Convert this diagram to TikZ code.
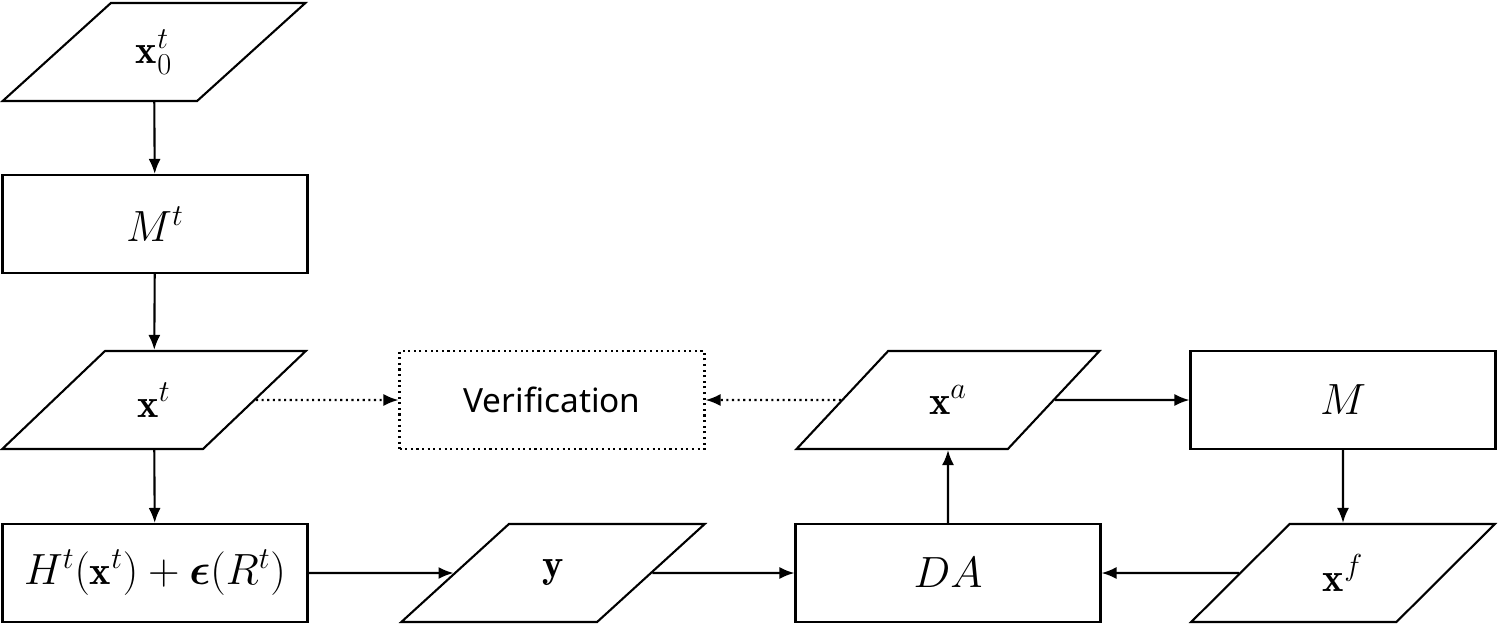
\documentclass[tikz,border=0pt]{standalone}
\usepackage{amsmath,bm}
\usepackage{fontspec}
\newfontfamily\vsans{Noto Sans}
\usetikzlibrary{shapes.geometric,arrows.meta}
\begin{document}
\begin{tikzpicture}[x=0.02cm,y=-0.02cm,
  every node/.style={font=\fontsize{23}{27}\selectfont, line width=1.2pt, draw, inner sep=0pt},
  box/.style={rectangle, minimum width=6.1cm, minimum height=1.96cm},
  para/.style={trapezium, trapezium left angle=45, trapezium right angle=135, trapezium stretches=true, minimum width=6.08cm, minimum height=1.96cm},
  arr/.style={line width=1.2pt, -{Latex[length=3mm,width=2.4mm]}},
  dot/.style={arr, dotted}]
\useasboundingbox (0,0) rectangle (1500,626);
\node[para] (x0) at (154,52) {$\mathbf{x}_0^t$};
\node[box] (Mt) at (155,224) {$M^t$};
\node[para] (xt) at (154,400) {$\mathbf{x}^t$};
\node[box] (H) at (155,573) {$H^t(\mathbf{x}^t)+\bm{\epsilon}(R^t)$};
\node[para] (y) at (553,573) {$\mathbf{y}$};
\node[box] (DA) at (948,573) {$DA$};
\node[para] (xf) at (1343,573) {$\mathbf{x}^f$};
\node[box] (M) at (1343,400) {$M$};
\node[para] (xa) at (948,400) {$\mathbf{x}^a$};
\node[box, dotted, font=\fontsize{19}{23}\selectfont] (V) at (552,400) {\vsans Verification};
\draw[arr] (x0) -- (Mt);
\draw[arr] (Mt) -- (xt);
\draw[arr] (xt) -- (H);
\draw[arr] (H) -- (y);
\draw[arr] (y) -- (DA);
\draw[arr] (xf) -- (DA);
\draw[arr] (M) -- (xf);
\draw[arr] (xa) -- (M);
\draw[arr] (DA) -- (xa);
\draw[dot] (xt) -- (V);
\draw[dot] (xa) -- (V);
\end{tikzpicture}
\end{document}
